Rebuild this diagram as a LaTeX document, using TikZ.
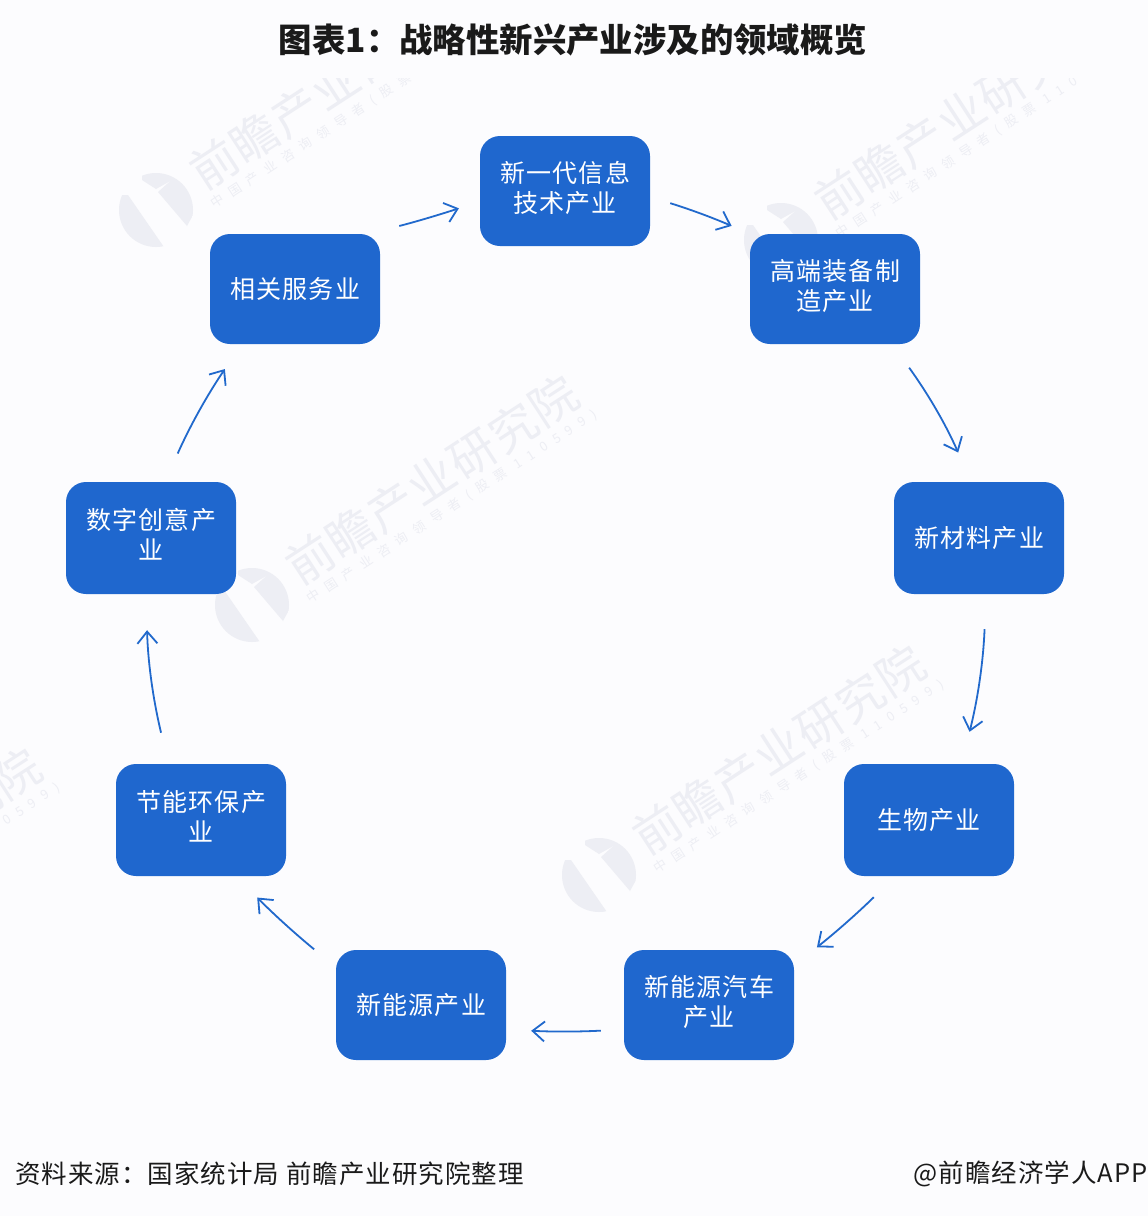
\documentclass[tikz,border=0pt]{standalone}
\usepackage{fontspec}
\usetikzlibrary{arrows.meta}
\setmainfont{Noto Sans CJK SC}
\newfontfamily\boxfont[LetterSpace=5]{Noto Sans CJK SC}
\newfontfamily\footfont[LetterSpace=4]{Noto Sans CJK SC}
\newfontfamily\wmfont[LetterSpace=3]{Noto Sans CJK SC}
\newfontfamily\wmsub[LetterSpace=62]{Noto Sans CJK SC}
\definecolor{bgc}{HTML}{FCFCFE}
\definecolor{boxc}{HTML}{1F67CE}
\definecolor{arrc}{HTML}{2169CC}
\definecolor{wmc}{HTML}{EDEEF4}
\definecolor{inkc}{HTML}{1A1A1A}
\tikzset{
  stagebox/.style={fill=boxc,rounded corners=20pt,minimum width=170pt,minimum height=110pt,
    inner sep=0pt,align=center,text=white,font=\boxfont\fontsize{25}{30}\selectfont},
  flow/.style={draw=arrc,line width=1.8pt,-{Straight Barb[length=12pt,width=20pt,line width=1.8pt]}},
  wmmain/.style={text=wmc,font=\wmfont\fontsize{47}{47}\selectfont,rotate=33,inner sep=0pt},
  wmsubt/.style={text=wmc,font=\wmsub\fontsize{13}{13}\selectfont,rotate=33,inner sep=0pt},
}
\newcommand{\wmark}[2]{%
  \begin{scope}[shift={(#1,#2)}]
    \begin{scope}
      \clip (252,605) circle (37);
      \fill[wmc] (224,590) -- (262,645) -- (200,650) -- (205,590) -- cycle;
      \fill[wmc] (254,587) -- (273,570) -- (300,590) -- (283,621) -- cycle;
      \fill[wmc] (238,560) -- (272,560) -- (270,574) -- (252,584) -- (238,575) -- cycle;
    \end{scope}
    \node[wmmain] (wmt#1) at (432,480) {前瞻产业研究院};
    \node[wmsubt] (wms#1) at (452,507) {中国产业咨询领导者(股票 110599)};
  \end{scope}}
\begin{document}
\begin{tikzpicture}[x=1pt,y=-1pt]
  \useasboundingbox (0,0) rectangle (1148,1216);
  \fill[bgc] (0,0) rectangle (1148,1216);
  \begin{scope}
    \clip (0,78) rectangle (1148,1216);
    \wmark{-96}{-395}
    \wmark{529}{-365}
  \end{scope}
  \wmark{0}{0}
  \wmark{347}{270}
  \wmark{-537}{373}

  \node[text=inkc,font=\fontsize{33.4}{34}\selectfont\bfseries,inner sep=0pt] (title) at (573,40) {图表1：战略性新兴产业涉及的领域概览};

  \node[stagebox] (it) at (565,191) {\raisebox{4pt}{\begin{tabular}{@{}c@{}}新一代信息\\技术产业\end{tabular}}};
  \node[stagebox] (gd) at (835,289) {\raisebox{4pt}{\begin{tabular}{@{}c@{}}高端装备制\\造产业\end{tabular}}};
  \node[stagebox,minimum height=112pt] (cl) at (979,538) {新材料产业};
  \node[stagebox,minimum height=112pt] (sw) at (929,820) {生物产业};
  \node[stagebox] (qc) at (709,1005) {\raisebox{4pt}{\begin{tabular}{@{}c@{}}新能源汽车\\产业\end{tabular}}};
  \node[stagebox] (ny) at (421,1005) {新能源产业};
  \node[stagebox,minimum height=112pt] (jn) at (201,820) {\raisebox{4pt}{\begin{tabular}{@{}c@{}}节能环保产\\业\end{tabular}}};
  \node[stagebox,minimum height=112pt] (sz) at (151,538) {\raisebox{4pt}{\begin{tabular}{@{}c@{}}数字创意产\\业\end{tabular}}};
  \node[stagebox] (rel) at (295,289) {相关服务业};

  \draw[flow,shorten <=32pt,shorten >=22pt] (rel.37) to[bend right=2] (it.187);
  \draw[flow,shorten <=21pt,shorten >=20pt] (it.-4) to[bend left=3] (gd.147);
  \draw[flow,shorten <=29pt,shorten >=32pt] (gd.-44) to[bend left=6] (cl.98);
  \draw[flow,shorten <=35pt,shorten >=33pt] (cl.-83) to[bend left=6] (sw.60);
  \draw[flow,shorten <=30pt,shorten >=29pt] (sw.239) to[bend left=3] (qc.25);
  \draw[flow,shorten <=23pt,shorten >=25pt] (qc.196) to[bend left=3] (ny.-16);
  \draw[flow,shorten <=28pt,shorten >=30pt] (ny.156) to[bend left=3] (jn.-58);
  \draw[flow,shorten <=32pt,shorten >=36pt] (jn.120) to[bend left=6] (sz.265);
  \draw[flow,shorten <=31pt,shorten >=30pt] (sz.76) to[bend left=5] (rel.226);

  \node[anchor=west,text=inkc,font=\footfont\fontsize{25.5}{26}\selectfont,inner sep=0pt] (src) at (15,1174) {资料来源：国家统计局 前瞻产业研究院整理};
  \node[anchor=east,text=inkc,font=\footfont\fontsize{25.5}{26}\selectfont,inner sep=0pt] (brand) at (1148,1174) {@前瞻经济学人APP};
\end{tikzpicture}
\end{document}
